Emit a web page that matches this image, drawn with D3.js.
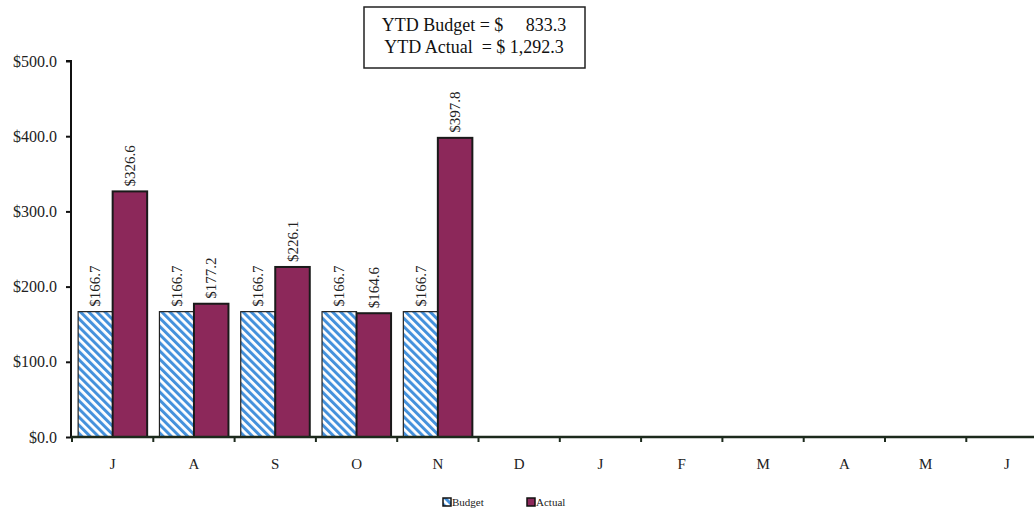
<!DOCTYPE html>
<html>
<head>
<meta charset="utf-8">
<script src="https://cdn.jsdelivr.net/npm/d3@7"></script>
<style>
  body { margin: 0; background: #fff; }
  svg { display: block; font-family: "Liberation Serif", "Times New Roman", serif; }
</style>
</head>
<body>
<div id="chart"></div>
<script>
"use strict";
// month letters (fiscal year Jul - Jun)
const months = ['J', 'A', 'S', 'O', 'N', 'D', 'J', 'F', 'M', 'A', 'M', 'J'];
const budget = [166.7, 166.7, 166.7, 166.7, 166.7, null, null, null, null, null, null, null];
const actual = [326.6, 177.2, 226.1, 164.6, 397.8, null, null, null, null, null, null, null];
const yTicks = [0, 100, 200, 300, 400, 500];
const ytdLines = ['YTD Budget = $     833.3', 'YTD Actual  = $ 1,292.3'];

const width = 1034, height = 511;
const svg = d3.select('#chart').append('svg')
  .attr('width', width)
  .attr('height', height);

// striped fill for budget bars
const defs = svg.append('defs');
const pat = defs.append('pattern')
  .attr('id', 'stripes')
  .attr('patternUnits', 'userSpaceOnUse')
  .attr('width', 5.8)
  .attr('height', 5.8)
  .attr('patternTransform', 'rotate(-45)');
pat.append('rect').attr('width', 5.8).attr('height', 5.8).attr('fill', '#fff');
pat.append('rect').attr('width', 3).attr('height', 5.8).attr('fill', '#4491dc');

const x0 = 72, x1 = 1047.6, yBase = 437, yTop = 61;

const x = d3.scaleBand()
  .domain(d3.range(months.length))
  .range([x0, x1])
  .paddingInner(0.151)
  .paddingOuter(0.0755);

const xs = d3.scaleBand()
  .domain(['budget', 'actual'])
  .range([0, x.bandwidth()]);

const y = d3.scaleLinear().domain([0, 500]).range([yBase, yTop]);

// y axis
const yAxis = svg.append('g')
  .attr('transform', `translate(${x0 - 1},0)`)
  .call(d3.axisLeft(y).tickValues(yTicks).tickSize(5).tickPadding(9)
    .tickFormat(d => '$' + d3.format('.1f')(d)));
yAxis.attr('font-family', null);
yAxis.select('.domain').attr('stroke', '#111').attr('stroke-width', 2).attr('d', `M-5,${yTop}H0V${yBase}`);
yAxis.selectAll('.tick line').attr('stroke', '#111').attr('stroke-width', 2);
yAxis.selectAll('.tick text').attr('font-size', 16).attr('fill', '#222');

// bars
const groups = svg.append('g').selectAll('g')
  .data(months.map((m, i) => ({ i, budget: budget[i], actual: actual[i] })))
  .join('g')
  .attr('transform', d => `translate(${x(d.i)},0)`);

groups.filter(d => d.budget != null).append('rect')
  .attr('x', xs('budget'))
  .attr('y', d => y(d.budget))
  .attr('width', xs.bandwidth())
  .attr('height', d => y(0) - y(d.budget))
  .attr('fill', 'url(#stripes)')
  .attr('stroke', '#222')
  .attr('stroke-width', 1.2);

groups.filter(d => d.actual != null).append('rect')
  .attr('x', xs('actual'))
  .attr('y', d => y(d.actual))
  .attr('width', xs.bandwidth())
  .attr('height', d => y(0) - y(d.actual))
  .attr('fill', '#8c285a')
  .attr('stroke', '#1a1a1a')
  .attr('stroke-width', 2);

// value labels, rotated
const labelFmt = v => '$' + d3.format('.1f')(v);
['budget', 'actual'].forEach(key => {
  groups.filter(d => d[key] != null).append('text')
    .attr('transform', d => `translate(${xs(key) + xs.bandwidth() / 2 + 5},${y(d[key]) - 5}) rotate(-90)`)
    .attr('font-size', 15)
    .attr('fill', '#222')
    .text(d => labelFmt(d[key]));
});

// x axis
const xAxisG = svg.append('g');
xAxisG.append('line')
  .attr('x1', x0 - 1).attr('x2', width)
  .attr('y1', yBase).attr('y2', yBase)
  .attr('stroke', '#1c2a1c').attr('stroke-width', 2.5);
xAxisG.selectAll('.xt')
  .data(d3.range(months.length + 1))
  .join('line')
  .attr('class', 'xt')
  .attr('x1', i => x0 + i * x.step()).attr('x2', i => x0 + i * x.step())
  .attr('y1', yBase).attr('y2', yBase + 5)
  .attr('stroke', '#1c2a1c').attr('stroke-width', 2);
xAxisG.selectAll('.xl')
  .data(months)
  .join('text')
  .attr('class', 'xl')
  .attr('x', (m, i) => x(i) + x.bandwidth() / 2)
  .attr('y', 469)
  .attr('text-anchor', 'middle')
  .attr('font-size', 15)
  .attr('fill', '#222')
  .text(m => m);

// YTD box
svg.append('rect')
  .attr('x', 364).attr('y', 7).attr('width', 221).attr('height', 61)
  .attr('fill', '#fff').attr('stroke', '#222').attr('stroke-width', 1.5);
svg.selectAll('.ytd')
  .data(ytdLines)
  .join('text')
  .attr('class', 'ytd')
  .attr('x', 474)
  .attr('y', (d, i) => 31 + i * 22)
  .attr('text-anchor', 'middle')
  .attr('font-size', 18)
  .attr('fill', '#111')
  .style('white-space', 'pre')
  .text(d => d);

// legend
const legend = [
  { name: 'Budget', fill: 'url(#stripes)', lx: 443 },
  { name: 'Actual', fill: '#8c285a', lx: 527 }
];
const lg = svg.selectAll('.lg').data(legend).join('g').attr('class', 'lg')
  .attr('transform', d => `translate(${d.lx},498)`);
lg.append('rect')
  .attr('width', 8).attr('height', 8)
  .attr('fill', d => d.fill)
  .attr('stroke', '#111').attr('stroke-width', 1.5);
lg.append('text')
  .attr('x', 9).attr('y', 8)
  .attr('font-size', 11)
  .attr('fill', '#222')
  .text(d => d.name);
</script>
</body>
</html>
